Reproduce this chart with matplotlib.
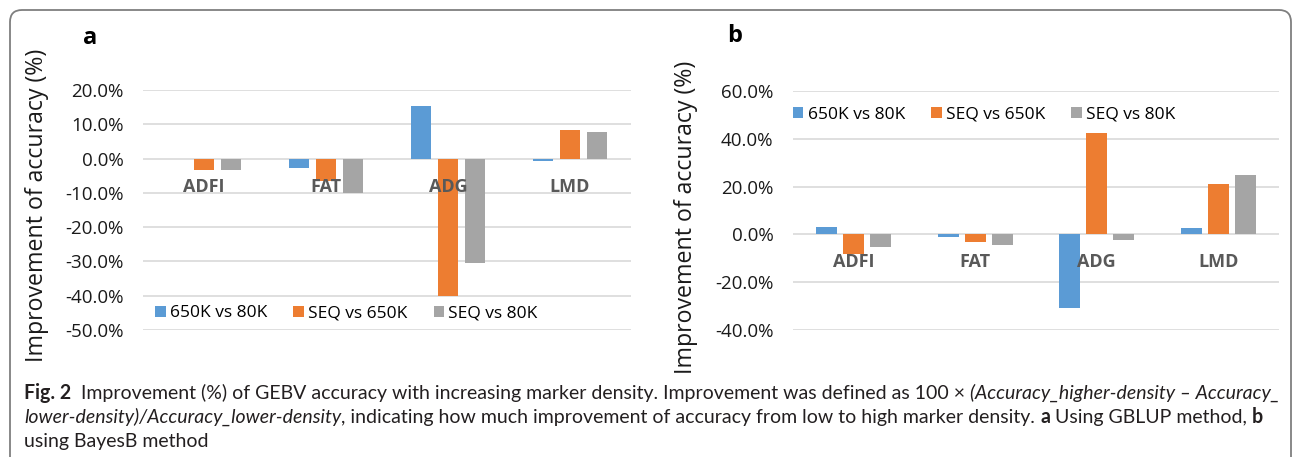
import matplotlib; matplotlib.use('Agg')
import matplotlib.pyplot as plt
from matplotlib.patches import Patch, FancyBboxPatch
from matplotlib.transforms import IdentityTransform
from matplotlib.font_manager import FontProperties

traits = ['ADFI', 'FAT', 'ADG', 'LMD']
series = ['650K vs 80K', 'SEQ vs 650K', 'SEQ vs 80K']

# a: GBLUP, improvement in %
gblup_650_80 = [0.0, -2.8, 15.2, -0.7]
gblup_seq_650 = [-3.3, -6.5, -40.0, 8.3]
gblup_seq_80 = [-3.3, -10.0, -30.6, 7.7]
# b: BayesB
bayesb_650_80 = [3.3, -1.0, -31.0, 2.5]
bayesb_seq_650 = [-8.4, -3.3, 42.6, 20.9]
bayesb_seq_80 = [-5.4, -4.6, -2.5, 24.7]

ticks_a = [20, 10, 0, -10, -20, -30, -40, -50]
ticks_b = [60, 40, 20, 0, -20, -40]

COLORS = ['#5B9BD5', '#ED7D31', '#A5A5A5']
GRID = '#D9D9D9'
TXT = '#1a1a1a'
FONT = 'Open Sans'
CAPFONT = 'Lato'

W, H = 1293, 457
fig = plt.figure(figsize=(W/100, H/100), dpi=100)
fig.patch.set_facecolor('white')

def rect(l, t, r, b):
    return [l/W, 1-b/H, (r-l)/W, (b-t)/H]

# rounded frame round the whole figure (bottom edge off-canvas)
frame = FancyBboxPatch((10, -30), 1281, H-10+30, boxstyle='round,pad=0,rounding_size=12',
                       transform=IdentityTransform(), fc='none', ec='#7f7f7f', lw=1.3)
fig.add_artist(frame)

def panel(ax, vals, ticks, leg_xy):
    x0 = [i + 0.5 for i in range(len(traits))]
    for k, v in enumerate(vals):
        ax.bar([x + (k-1)*0.222 for x in x0], v, width=0.17, color=COLORS[k], zorder=2)
    ax.set_xlim(0, 4)
    ax.set_ylim(min(ticks), max(ticks))
    ax.set_yticks(ticks)
    ax.set_yticklabels([f'{t:.1f}%' for t in ticks], fontsize=13.5, family=FONT, color=TXT)
    ax.set_xticks([])
    ax.yaxis.grid(True, color=GRID, lw=1.2)
    ax.set_axisbelow(True)
    for s in ax.spines.values():
        s.set_visible(False)
    ax.tick_params(axis='y', length=0, pad=14)
    for i, t in enumerate(traits):
        ax.annotate(t, xy=(x0[i], 0), xytext=(0, -28), textcoords='offset pixels',
                    ha='center', va='center', fontsize=13, fontweight='bold',
                    family=FONT, color='#595959', zorder=5)
    handles = [Patch(facecolor=c, edgecolor='none') for c in COLORS]
    ax.legend(handles, series, loc='center left', bbox_to_anchor=leg_xy, ncol=3,
              frameon=False, handlelength=0.6, handleheight=0.6, handletextpad=0.25,
              columnspacing=1.5, borderpad=0, borderaxespad=0,
              prop=FontProperties(family=FONT, size=12.5))

axa = fig.add_axes(rect(143, 90, 631, 330))
panel(axa, [gblup_650_80, gblup_seq_650, gblup_seq_80], ticks_a, (0.025, 0.07))
axb = fig.add_axes(rect(793, 91, 1279, 330))
panel(axb, [bayesb_650_80, bayesb_seq_650, bayesb_seq_80], ticks_b, (0.0, 0.90))

ylab = 'Improvement of accuracy (%)'
fig.text(37/W, 1-205/H, ylab, rotation=90, ha='center', va='center', fontsize=16.7,
         family=FONT, color=TXT)
fig.text(686/W, 1-217/H, ylab, rotation=90, ha='center', va='center', fontsize=16.7,
         family=FONT, color=TXT)
fig.text(90/W, 1-38/H, 'a', ha='center', va='center', fontsize=17, fontweight='bold', family=FONT)
fig.text(735/W, 1-36/H, 'b', ha='center', va='center', fontsize=17, fontweight='bold', family=FONT)

# caption, drawn run by run so bold / italic can mix on a line
N, B, I = ('normal', 'normal'), ('bold', 'normal'), ('normal', 'italic')
lines = [
    [('Fig. 2', B), ('  Improvement (%) of GEBV accuracy with increasing marker density. '
                     'Improvement was defined as 100 \u00d7 ', N),
     ('(Accuracy_higher-density \u2013 Accuracy_', I)],
    [('lower-density)/Accuracy_lower-density', I),
     (', indicating how much improvement of accuracy from low to high marker density. ', N),
     ('a', B), (' Using GBLUP method, ', N), ('b', B)],
    [('using BayesB method', N)],
]
rend = fig.canvas.get_renderer()

def width(s, st, size):
    fp = FontProperties(family=CAPFONT, weight=st[0], style=st[1], size=size)
    w1 = rend.get_text_width_height_descent('|' + s + '|', fp, ismath=False)[0]
    w0 = rend.get_text_width_height_descent('||', fp, ismath=False)[0]
    return w1 - w0

base = 12
natural = sum(width(s, st, base) for s, st in lines[0])
size = base * 1254 / natural
for yb, runs in zip([399, 423, 447], lines):
    x = 24
    for s, st in runs:
        fig.text(x/W, 1-yb/H, s, ha='left', va='baseline', family=CAPFONT,
                 fontweight=st[0], style=st[1], fontsize=size, color='#231f20')
        x += width(s, st, size)

fig.savefig('out.png', dpi=100, facecolor='white')
